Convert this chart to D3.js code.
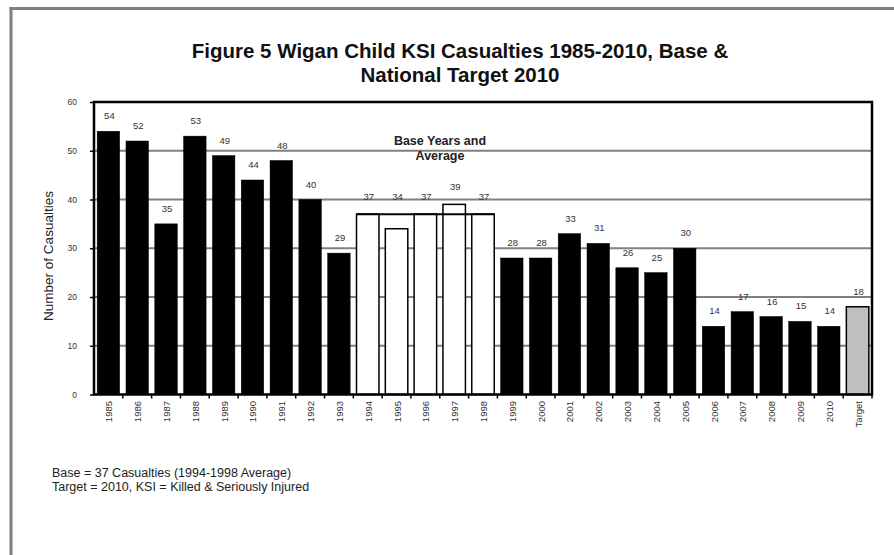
<!DOCTYPE html>
<html>
<head>
<meta charset="utf-8">
<script src="https://cdn.jsdelivr.net/npm/d3@7/dist/d3.min.js"></script>
<style>
  html, body { margin: 0; padding: 0; background: #fff; }
  svg { display: block; font-family: "Liberation Sans", Arial, sans-serif; }
</style>
</head>
<body>
<svg id="chart" width="894" height="555"></svg>
<script>
// ---- data ----
const categories = ["1985","1986","1987","1988","1989","1990","1991","1992","1993",
  "1994","1995","1996","1997","1998","1999","2000","2001","2002","2003","2004",
  "2005","2006","2007","2008","2009","2010","Target"];
const casualties = [54,52,35,53,49,44,48,40,29,37,34,37,39,37,28,28,33,31,26,25,30,14,17,16,15,14,18];
const baseYears = ["1994","1995","1996","1997","1998"];
const baseAverage = 37;
const targetCategory = "Target";
const yTicks = [0,10,20,30,40,50,60];
const titleLines = ["Figure 5 Wigan Child KSI Casualties 1985-2010, Base &", "National Target 2010"];
const baseLabelLines = ["Base Years and", "Average"];
const footnotes = ["Base = 37 Casualties (1994-1998 Average)", "Target = 2010, KSI = Killed & Seriously Injured"];
const yTitle = "Number of Casualties";

// ---- layout ----
const svg = d3.select("#chart");
const plot = { left: 94, top: 102, right: 872, bottom: 394.5 };

// page frame
svg.append("line").attr("x1", 9.5).attr("x2", 894).attr("y1", 8.5).attr("y2", 8.5)
  .attr("stroke", "#808080").attr("stroke-width", 3);
svg.append("line").attr("x1", 11).attr("x2", 11).attr("y1", 7).attr("y2", 555)
  .attr("stroke", "#808080").attr("stroke-width", 3);

const x = d3.scaleBand().domain(categories).range([plot.left, plot.right])
  .paddingInner(0.22).paddingOuter(0.11);
const y = d3.scaleLinear().domain([0, 60]).range([plot.bottom, plot.top]);

// gridlines
svg.append("g").selectAll("line").data(yTicks.filter(t => t > 0 && t < 60)).join("line")
  .attr("x1", plot.left).attr("x2", plot.right)
  .attr("y1", d => y(d)).attr("y2", d => y(d))
  .attr("stroke", "#808080").attr("stroke-width", 2);

// bars
const data = categories.map((c, i) => ({ c, v: casualties[i] }));
function fillFor(c) {
  if (c === targetCategory) return "#c0c0c0";
  if (baseYears.includes(c)) return "#ffffff";
  return "#000000";
}
svg.append("g").selectAll("rect").data(data).join("rect")
  .attr("x", d => x(d.c))
  .attr("width", x.bandwidth())
  .attr("y", d => y(d.v))
  .attr("height", d => y(0) - y(d.v))
  .attr("fill", d => fillFor(d.c))
  .attr("stroke", "#000")
  .attr("stroke-width", d => d.c === targetCategory || baseYears.includes(d.c) ? 1.5 : 0.5);

// base average line
const bx1 = x(baseYears[0]), bx2 = x(baseYears[baseYears.length - 1]) + x.bandwidth();
svg.append("line").attr("x1", bx1).attr("x2", bx2)
  .attr("y1", y(baseAverage)).attr("y2", y(baseAverage))
  .attr("stroke", "#000").attr("stroke-width", 2);

// plot border
svg.append("rect").attr("x", plot.left).attr("y", plot.top)
  .attr("width", plot.right - plot.left).attr("height", plot.bottom - plot.top)
  .attr("fill", "none").attr("stroke", "#000").attr("stroke-width", 2.5);

// y axis
const yAxis = d3.axisLeft(y).tickValues(yTicks).tickSize(4).tickPadding(13);
const gy = svg.append("g").attr("transform", `translate(${plot.left},0)`).call(yAxis);
gy.select(".domain").remove();
gy.selectAll(".tick line").attr("stroke", "#000").attr("stroke-width", 1.5);
gy.selectAll(".tick text").attr("font-size", 8.5).attr("fill", "#333")
  .attr("font-family", "Liberation Sans, Arial, sans-serif");

// x axis ticks (between categories)
const step = x.step();
const boundaries = categories.map((c, i) => x(c) - x.paddingInner() * step / 2).slice(1)
  .concat([plot.right]);
svg.append("g").selectAll("line").data(boundaries).join("line")
  .attr("x1", d => d).attr("x2", d => d)
  .attr("y1", plot.bottom).attr("y2", plot.bottom + 4)
  .attr("stroke", "#000").attr("stroke-width", 1.5);

// x labels
svg.append("g").selectAll("text").data(categories).join("text")
  .attr("transform", c => `translate(${x(c) + x.bandwidth() / 2 + 0.5},401) rotate(-90)`)
  .attr("text-anchor", "end").attr("dominant-baseline", "central")
  .attr("font-size", 9.5).attr("fill", "#333")
  .text(c => c);

// value labels
svg.append("g").selectAll("text").data(data).join("text")
  .attr("x", d => x(d.c) + x.bandwidth() / 2 + 1)
  .attr("y", d => {
    const top = baseYears.includes(d.c) ? Math.min(y(d.v), y(baseAverage)) : y(d.v);
    return top - (baseYears.includes(d.c) ? 14 : 12);
  })
  .attr("text-anchor", "middle").attr("font-size", 9.5).attr("fill", "#333")
  .text(d => d.v);

// base label
const baseLbl = svg.append("text").attr("text-anchor", "middle")
  .attr("font-size", 12.5).attr("font-weight", "bold").attr("fill", "#222");
baseLabelLines.forEach((t, i) => baseLbl.append("tspan").attr("x", 440).attr("y", 144.5 + i * 15).text(t));

// title
const title = svg.append("text").attr("text-anchor", "middle")
  .attr("font-size", 20.5).attr("font-weight", "bold").attr("fill", "#111");
titleLines.forEach((t, i) => title.append("tspan").attr("x", 460).attr("y", 58 + i * 23.5).text(t));

// y title
svg.append("text").attr("transform", "translate(53,256) rotate(-90)")
  .attr("text-anchor", "middle").attr("font-size", 13.5).attr("fill", "#222")
  .text(yTitle);

// footnotes
footnotes.forEach((t, i) => svg.append("text").attr("x", 52).attr("y", 477 + i * 14)
  .attr("font-size", 12.5).attr("fill", "#222").text(t));
</script>
</body>
</html>
